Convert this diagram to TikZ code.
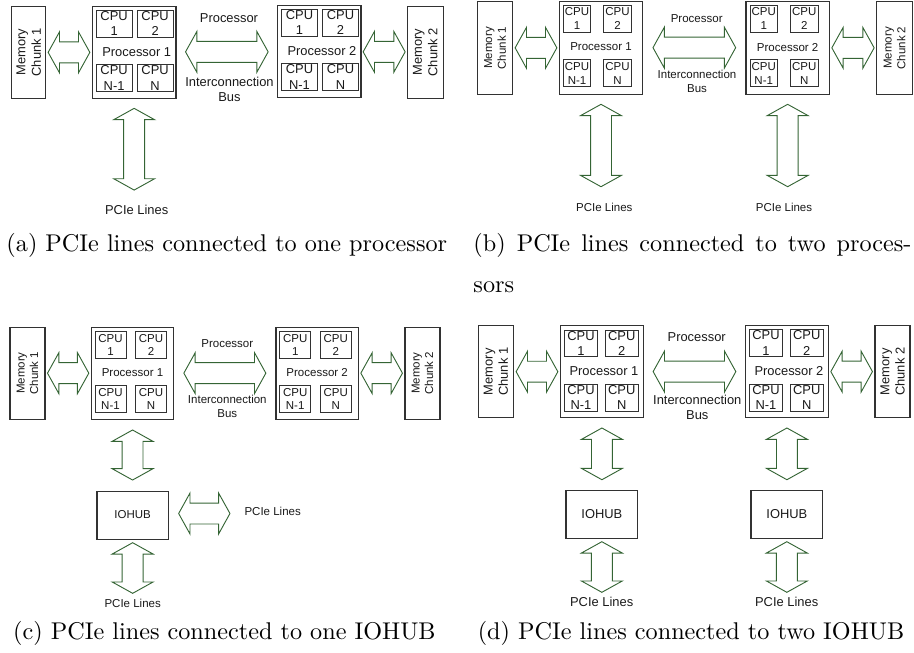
\documentclass[tikz,border=0pt]{standalone}
\usepackage{fontspec}
\newfontfamily\arialfont{Liberation Sans}
\usetikzlibrary{shapes.arrows,calc}

% one drawing unit
\newlength\pxu
\setlength\pxu{0.413pt}

\definecolor{busgreen}{RGB}{52,100,52}
\definecolor{boxline}{RGB}{50,50,50}
\definecolor{labeltext}{RGB}{25,25,25}

% per-panel geometry of the CPU boxes and label font (redefined per panel)
\def\pfont{\fontsize{5.33}{6.3}\selectfont}
\def\cpuw{36}\def\cpuh{27}\def\cpul{4}\def\cpur{44.5}\def\cput{4}\def\cpub{7}\def\labdx{0}

\tikzset{
  membox/.style={draw=boxline, line width=0.42pt, inner sep=0pt, outer sep=0pt, anchor=north west},
  memtext/.style={rotate=90, align=center, inner sep=0pt, text=labeltext, font=\arialfont\pfont},
  procbox/.style={draw=boxline, line width=0.42pt, inner sep=0pt, outer sep=0pt, anchor=north west},
  cpubox/.style={draw=boxline, line width=0.38pt, minimum width=\cpuw\pxu, minimum height=\cpuh\pxu,
    inner sep=0pt, outer sep=0pt, align=center, text=labeltext, font=\arialfont\pfont},
  iobox/.style={draw=boxline, line width=0.42pt, inner sep=0pt, outer sep=0pt, anchor=north west,
    text=labeltext, font=\arialfont\pfont},
  lbl/.style={inner sep=0pt, align=center, text=labeltext, font=\arialfont\pfont},
  busarrow/.style={double arrow, draw=busgreen, line width=0.38pt, inner xsep=0pt, inner ysep=10\pxu,
    double arrow head extend=10\pxu, double arrow tip angle=122, outer sep=0pt},
  subcap/.style={inner sep=0pt, anchor=base west, font=\fontsize{10}{16.8}\selectfont},
}

% memory chunk: name, x, y (north west), width, height, number
\newcommand\memunit[6]{%
  \node[membox, minimum width=#4\pxu, minimum height=#5\pxu] (#1) at (#2,#3) {};
  \node[memtext] (#1-t) at (#1.center) {Memory\\Chunk #6};
}
% processor with four CPUs: name, x, y (north west), width, height, label
\newcommand\procunit[6]{%
  \node[procbox, minimum width=#4\pxu, minimum height=#5\pxu] (#1) at (#2,#3) {};
  \node[cpubox, anchor=north west] (#1-c1) at ($(#1.north west)+(\cpul,\cput)$) {CPU\\1};
  \node[cpubox, anchor=north west] (#1-c2) at ($(#1.north west)+(\cpur,\cput)$) {CPU\\2};
  \node[cpubox, anchor=south west] (#1-c3) at ($(#1.south west)+(\cpul,-\cpub)$) {CPU\\N-1};
  \node[cpubox, anchor=south west] (#1-c4) at ($(#1.south west)+(\cpur,-\cpub)$) {CPU\\N};
  \node[lbl] (#1-t) at ($(#1.center)+(\labdx,-0.6)$) {#6};
}

\begin{document}
\begin{tikzpicture}[x=\pxu, y=-\pxu]
\useasboundingbox (0,0) rectangle (914,652);

% ---------------- (a) ----------------
\def\pfont{\fontsize{5.33}{6.4}\selectfont}
\def\cpuw{36}\def\cpuh{27}\def\cpul{3.8}\def\cpur{44.8}\def\cput{4}\def\cpub{7}\def\labdx{2.6}
\memunit{a-m1}{11.7}{6}{34}{92.7}{1}
\procunit{a-p1}{92.3}{6}{83.7}{92.7}{Processor 1}
\procunit{a-p2}{277.7}{5}{83.3}{92.7}{Processor 2}
\memunit{a-m2}{407.3}{6}{36}{92.7}{2}
\node[busarrow, minimum height=41.7\pxu] (a-l) at ($(a-m1.east)!0.5!(a-p1.west)$) {};
\node[busarrow, minimum height=82.6\pxu] (a-bus) at ($(a-p1.east)!0.5!(a-p2.west)$) {};
\node[busarrow, minimum height=42\pxu] (a-r) at ($(a-p2.east)!0.5!(a-m2.west)$) {};
\node[busarrow, rotate=90, minimum height=81.7\pxu] (a-v) at ($(a-p1.south)+(0,50.5)$) {};
\node[lbl] (a-t1) at (229,18) {Processor};
\node[lbl] (a-t2) at (229.5,89.2) {Interconnection\\Bus};
\node[lbl] (a-t3) at (136.7,210) {PCIe Lines};
\node[subcap] (a-cap) at (6,251.5) {(a) PCIe lines connected to one processor};

% ---------------- (b) ----------------
\def\pfont{\fontsize{4.75}{5.7}\selectfont}
\def\cpuw{27.5}\def\cpuh{27.3}\def\cpul{4}\def\cpur{44.5}\def\cput{4}\def\cpub{7.5}\def\labdx{0}
\memunit{b-m1}{477.3}{1.7}{35.4}{92.6}{1}
\procunit{b-p1}{559.3}{1}{83.4}{93.3}{Processor 1}
\procunit{b-p2}{746}{1}{83.3}{93.3}{Processor 2}
\memunit{b-m2}{876.7}{1.7}{35.6}{92.6}{2}
\node[busarrow, minimum height=41.7\pxu] (b-l) at ($(b-m1.east)!0.5!(b-p1.west)$) {};
\node[busarrow, minimum height=82.7\pxu] (b-bus) at ($(b-p1.east)!0.5!(b-p2.west)$) {};
\node[busarrow, minimum height=42.3\pxu] (b-r) at ($(b-p2.east)!0.5!(b-m2.west)$) {};
\node[busarrow, rotate=90, minimum height=82.4\pxu] (b-v1) at ($(b-p1.south)+(0,51.2)$) {};
\node[busarrow, rotate=90, minimum height=82.4\pxu] (b-v2) at ($(b-p2.south)+(0,51.2)$) {};
\node[lbl] (b-t1) at (696.7,18.3) {Processor};
\node[lbl] (b-t2) at (697,81.2) {Interconnection\\Bus};
\node[lbl] (b-t3) at (604.3,207.3) {PCIe Lines};
\node[lbl] (b-t4) at (784,207.3) {PCIe Lines};
\node[subcap] (b-cap) at (473,251.5)
  {\parbox[t]{438\pxu}{(b) PCIe lines connected to two proces-\linebreak sors}};

% ---------------- (c) ----------------
\def\pfont{\fontsize{4.75}{5.6}\selectfont}
\def\cpuw{31}\def\cpuh{26.6}\def\cpul{3.7}\def\cpur{44.2}\def\cput{4.4}\def\cpub{6.7}\def\labdx{0}
\memunit{c-m1}{10}{327.3}{35}{91.7}{1}
\procunit{c-p1}{91.3}{327.3}{82.4}{91.7}{Processor 1}
\procunit{c-p2}{276}{327.3}{82.3}{91.7}{Processor 2}
\memunit{c-m2}{405}{327.3}{35}{91.7}{2}
\node[iobox, minimum width=71.3\pxu, minimum height=48\pxu] (c-io) at (97,491) {IOHUB};
\node[busarrow, minimum height=41.3\pxu] (c-l) at ($(c-m1.east)!0.5!(c-p1.west)$) {};
\node[busarrow, minimum height=82\pxu] (c-bus) at ($(c-p1.east)!0.5!(c-p2.west)$) {};
\node[busarrow, minimum height=41.6\pxu] (c-r) at ($(c-p2.east)!0.5!(c-m2.west)$) {};
\node[busarrow, rotate=90, minimum height=50\pxu] (c-v1) at ($(c-p1.south)!0.5!(c-io.north)$) {};
\node[busarrow, rotate=90, minimum height=50.6\pxu] (c-v2) at ($(c-io.south)+(0,29)$) {};
\node[busarrow, minimum height=51.3\pxu] (c-h) at ($(c-io.east)+(36,-1.5)$) {};
\node[lbl] (c-t1) at (227.3,343.3) {Processor};
\node[lbl] (c-t2) at (227.3,406.3) {Interconnection\\Bus};
\node[lbl] (c-t3) at (272.7,511) {PCIe Lines};
\node[lbl] (c-t4) at (132.7,603.3) {PCIe Lines};
\node[subcap] (c-cap) at (12.7,639.2) {(c) PCIe lines connected to one IOHUB};

% ---------------- (d) ----------------
\def\pfont{\fontsize{5.33}{6.3}\selectfont}
\def\cpuw{33.4}\def\cpuh{26.7}\def\cpul{3.6}\def\cpur{44.3}\def\cput{4.3}\def\cpub{6.7}\def\labdx{2}
\memunit{d-m1}{478.3}{325.7}{35}{92}{1}
\procunit{d-p1}{560.7}{325.7}{82.6}{92}{Processor 1}
\procunit{d-p2}{745.7}{325.3}{82.6}{92.4}{Processor 2}
\memunit{d-m2}{875}{325.7}{35}{92}{2}
\node[iobox, minimum width=71.7\pxu, minimum height=48.3\pxu] (d-io1) at (566,490) {IOHUB};
\node[iobox, minimum width=71.7\pxu, minimum height=48.3\pxu] (d-io2) at (751,490) {IOHUB};
\node[busarrow, minimum height=41.7\pxu] (d-l) at ($(d-m1.east)!0.5!(d-p1.west)$) {};
\node[busarrow, minimum height=82.7\pxu] (d-bus) at ($(d-p1.east)!0.5!(d-p2.west)$) {};
\node[busarrow, minimum height=41.6\pxu] (d-r) at ($(d-p2.east)!0.5!(d-m2.west)$) {};
\node[busarrow, rotate=90, minimum height=51.7\pxu] (d-v1) at ($(d-p1.south)!0.5!(d-io1.north)$) {};
\node[busarrow, rotate=90, minimum height=50.6\pxu] (d-v2) at ($(d-io1.south)+(0,28.7)$) {};
\node[busarrow, rotate=90, minimum height=51.7\pxu] (d-v3) at ($(d-p2.south)!0.5!(d-io2.north)$) {};
\node[busarrow, rotate=90, minimum height=50.6\pxu] (d-v4) at ($(d-io2.south)+(0,28.7)$) {};
\node[lbl] (d-t1) at (696.7,337.3) {Processor};
\node[lbl] (d-t2) at (697.3,407.5) {Interconnection\\Bus};
\node[lbl] (d-t3) at (601.7,602.3) {PCIe Lines};
\node[lbl] (d-t4) at (786.7,602.3) {PCIe Lines};
\node[subcap] (d-cap) at (477.3,639.2) {(d) PCIe lines connected to two IOHUB};
\end{tikzpicture}
\end{document}
